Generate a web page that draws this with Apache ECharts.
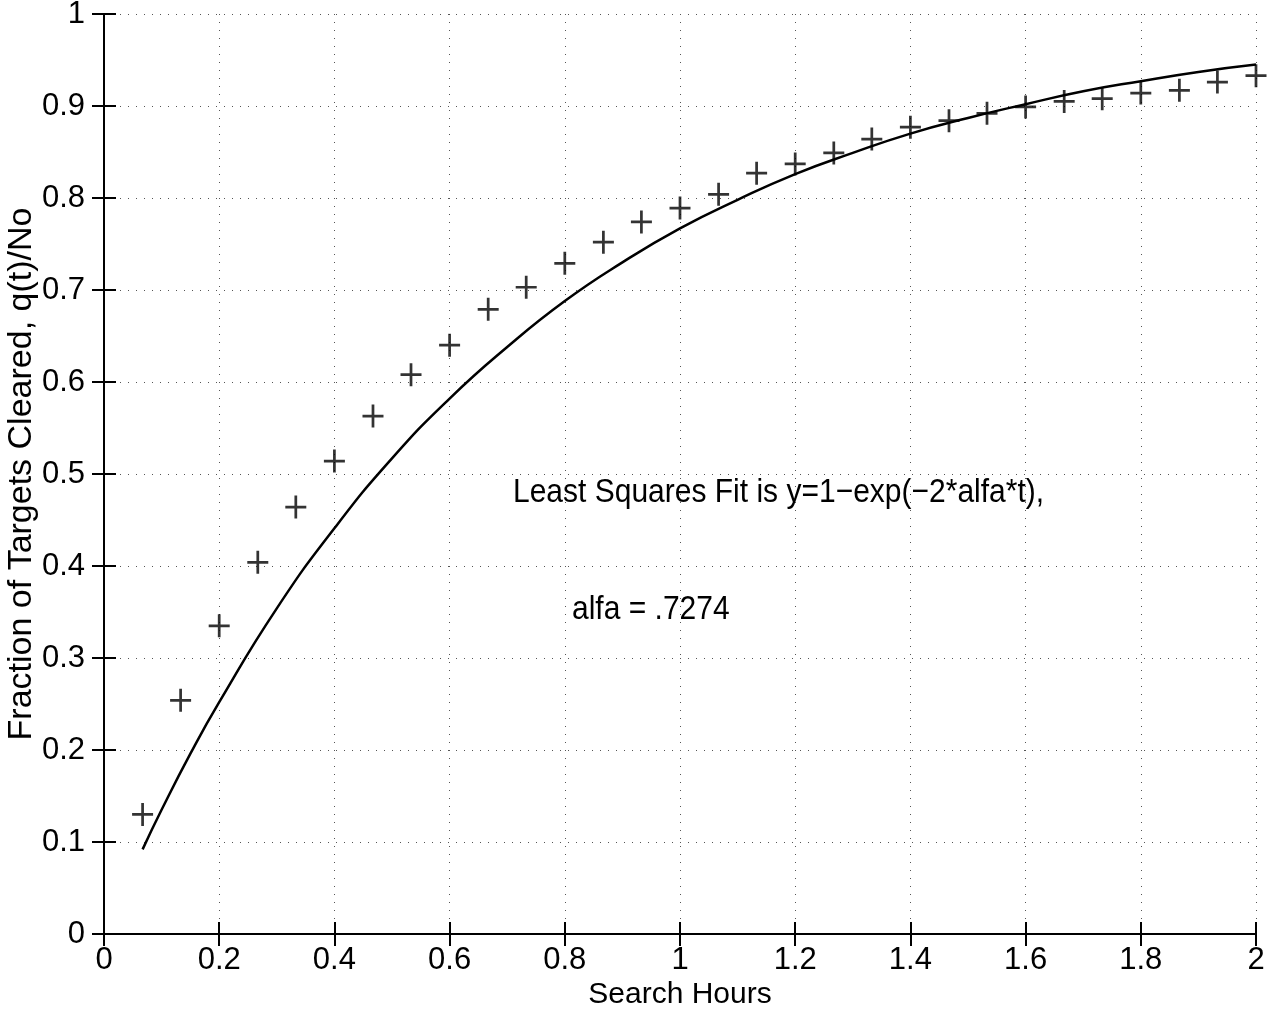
<!DOCTYPE html>
<html>
<head>
<meta charset="utf-8">
<script src="https://cdn.jsdelivr.net/npm/echarts@6/dist/echarts.min.js"></script>
<style>
html,body{margin:0;padding:0;background:#fff;}
#chart{width:1282px;height:1013px;}
</style>
</head>
<body>
<div id="chart"></div>
<script>
// Observed data (+ markers)
var obsHours = [0.067, 0.133, 0.2, 0.267, 0.333, 0.4, 0.467, 0.533, 0.6, 0.667,
                0.733, 0.8, 0.867, 0.933, 1.0, 1.067, 1.133, 1.2, 1.267, 1.333,
                1.4, 1.467, 1.533, 1.6, 1.667, 1.733, 1.8, 1.867, 1.933, 2.0];
var obsFraction = [0.130, 0.254, 0.335, 0.404, 0.464, 0.514, 0.563, 0.608, 0.640, 0.679,
                   0.703, 0.729, 0.752, 0.774, 0.789, 0.804, 0.827, 0.837, 0.849, 0.864,
                   0.877, 0.884, 0.892, 0.899, 0.905, 0.908, 0.914, 0.917, 0.926, 0.933];
// Fitted curve (solid line)
var fitHours = [0.067, 0.1, 0.15, 0.2, 0.3, 0.4, 0.5, 0.6, 0.7, 0.8, 0.9, 1.0,
                1.1, 1.2, 1.3, 1.4, 1.5, 1.6, 1.7, 1.8, 1.9, 2.0];
var fitFraction = [0.092, 0.135, 0.196, 0.252, 0.354, 0.441, 0.517, 0.582, 0.638, 0.688, 0.730, 0.767,
                   0.798, 0.826, 0.849, 0.870, 0.887, 0.902, 0.916, 0.927, 0.937, 0.945];
// Tick labels
var xTickLabels = ['0', '0.2', '0.4', '0.6', '0.8', '1', '1.2', '1.4', '1.6', '1.8', '2'];
var yTickLabels = ['0', '0.1', '0.2', '0.3', '0.4', '0.5', '0.6', '0.7', '0.8', '0.9', '1'];
var xTitle = 'Search Hours';
var yTitle = 'Fraction of Targets Cleared, q(t)/No';
var noteLine1 = 'Least Squares Fit is y=1\u2212exp(\u22122*alfa*t),';
var noteLine2 = 'alfa = .7274';

var FONT = '"Liberation Sans", Arial, Helvetica, sans-serif';
var chart = echarts.init(document.getElementById('chart'));

function zip(a, b) { return a.map(function (v, i) { return [v, b[i]]; }); }

var gridLine = { show: true, lineStyle: { color: '#555', width: 1, type: [1, 7] } };
var axisLineStyle = { show: true, lineStyle: { color: '#000', width: 2 } };
var tickIn = { show: true, inside: true, length: 12, lineStyle: { color: '#000', width: 2 } };

chart.setOption({
  animation: false,
  backgroundColor: '#fff',
  grid: { left: 104, right: 26, top: 14, bottom: 79, containLabel: false, outerBoundsMode: 'none' },
  xAxis: [{
    type: 'value', min: 0, max: 2, interval: 0.2,
    name: xTitle, nameLocation: 'middle', nameGap: 46, nameMoveOverlap: false,
    nameTextStyle: { fontSize: 30, fontFamily: FONT, color: '#000' },
    axisLine: axisLineStyle, axisTick: tickIn, splitLine: gridLine,
    axisLabel: { fontSize: 31, fontFamily: FONT, color: '#000', margin: 11,
      formatter: function (v) { return xTickLabels[Math.round(v / 0.2)]; } }
  }, {
    type: 'value', min: 0, max: 2, interval: 0.2, position: 'top',
    axisLine: axisLineStyle, axisTick: tickIn, splitLine: { show: false },
    axisLabel: { show: false }
  }],
  yAxis: [{
    type: 'value', min: 0, max: 1, interval: 0.1,
    name: yTitle, nameLocation: 'middle', nameGap: 65, nameMoveOverlap: false,
    nameTextStyle: { fontSize: 34, fontFamily: FONT, color: '#000' },
    axisLine: axisLineStyle, axisTick: tickIn, splitLine: gridLine,
    axisLabel: { fontSize: 31, fontFamily: FONT, color: '#000', margin: 19,
      formatter: function (v) { return yTickLabels[Math.round(v / 0.1)]; } }
  }, {
    type: 'value', min: 0, max: 1, interval: 0.1, position: 'right',
    axisLine: axisLineStyle, axisTick: tickIn, splitLine: { show: false },
    axisLabel: { show: false }
  }],
  series: [{
    name: 'fit', type: 'line', xAxisIndex: 0, yAxisIndex: 0,
    data: zip(fitHours, fitFraction), smooth: true, showSymbol: false,
    lineStyle: { color: '#000', width: 2.5 }, z: 3
  }, {
    name: 'observed', type: 'scatter', xAxisIndex: 0, yAxisIndex: 0,
    data: zip(obsHours, obsFraction),
    symbol: 'path://M8.7,0h2.6v22h-2.6zM0,9.7h20v2.6h-20z', symbolSize: [21, 23],
    itemStyle: { color: '#000' }, z: 4
  }],
  graphic: [{
    type: 'text', x: 513, y: 493, scaleY: 1.12,
    style: { text: noteLine1, fontSize: 30, fontFamily: FONT, fill: '#000', align: 'left', verticalAlign: 'middle' }
  }, {
    type: 'text', x: 572, y: 610, scaleY: 1.12,
    style: { text: noteLine2, fontSize: 30, fontFamily: FONT, fill: '#000', align: 'left', verticalAlign: 'middle' }
  }]
});
</script>
</body>
</html>
